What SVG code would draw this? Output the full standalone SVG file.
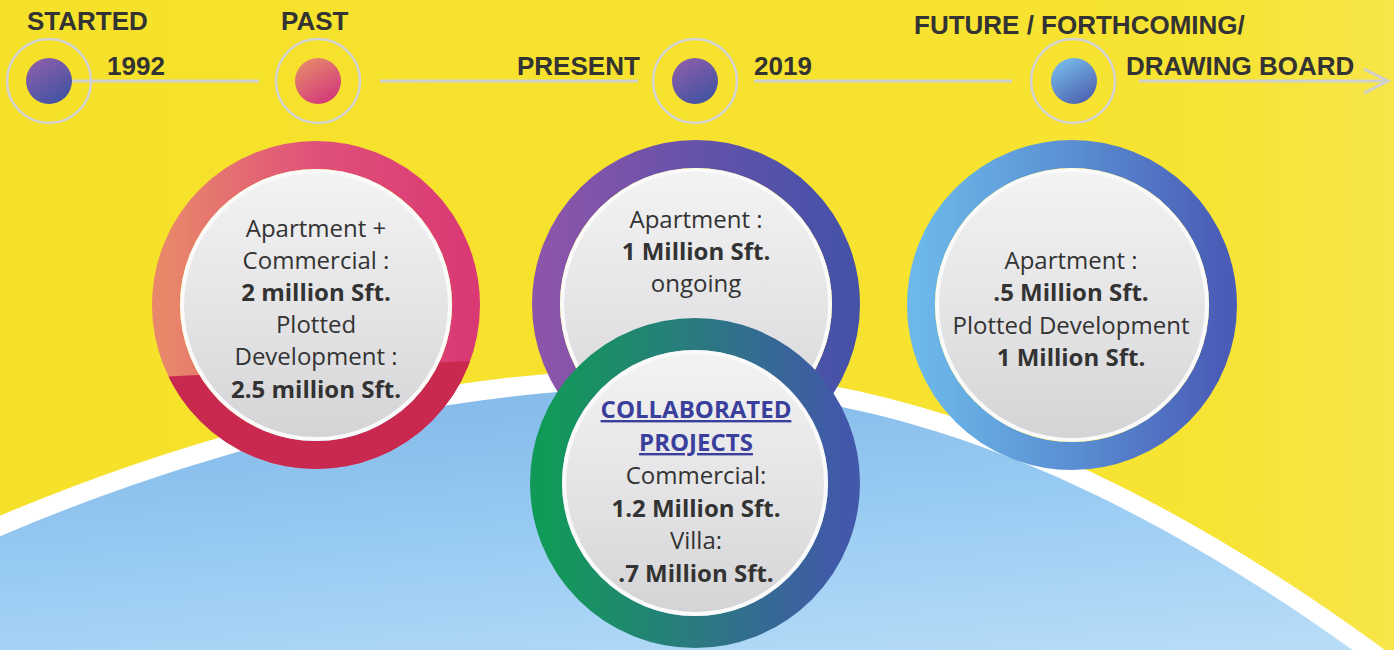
<svg xmlns="http://www.w3.org/2000/svg" width="1394" height="650" viewBox="0 0 1394 650">
<defs>
<style>
.lbl{font-family:"Liberation Sans",Arial,sans-serif;font-weight:700;font-size:26px;fill:#333333}
.tx{font-family:"Open Sans","Noto Sans",sans-serif;font-size:24px;fill:#333333;text-anchor:middle}
.b{font-weight:700}
.ring{fill:none}
.halo{fill:none;stroke:#D2D2D2;stroke-width:2.5}
.tl{stroke:#CFCFCF;stroke-width:3;fill:none}
.rim{fill:#FAFAFA}
.disk{fill:url(#gDisk)}
.ul{fill:#3A3F9C;text-decoration:underline}
</style>
<linearGradient id="gBg" x1="0" y1="0" x2="1" y2="0">
<stop offset="0" stop-color="#F6E12A"/><stop offset="0.85" stop-color="#F7E331"/><stop offset="1" stop-color="#F8E64A"/>
</linearGradient>
<linearGradient id="gSky" x1="0" y1="0" x2="0.35" y2="1">
<stop offset="0" stop-color="#7FB5E7"/><stop offset="0.5" stop-color="#98CBF2"/><stop offset="1" stop-color="#B8DDF8"/>
</linearGradient>
<linearGradient id="gDisk" x1="0" y1="0" x2="0" y2="1">
<stop offset="0" stop-color="#F3F3F4"/><stop offset="0.6" stop-color="#E2E2E4"/><stop offset="1" stop-color="#D4D4D6"/>
</linearGradient>
<linearGradient id="gPurple" x1="0.2" y1="0" x2="0.8" y2="1">
<stop offset="0" stop-color="#8D5FAA"/><stop offset="1" stop-color="#3F52A3"/>
</linearGradient>
<linearGradient id="gPink" x1="0.2" y1="0" x2="0.8" y2="1">
<stop offset="0" stop-color="#E68C6A"/><stop offset="1" stop-color="#D2357C"/>
</linearGradient>
<linearGradient id="gLblue" x1="0.2" y1="0" x2="0.8" y2="1">
<stop offset="0" stop-color="#79BDEC"/><stop offset="1" stop-color="#4B5EAF"/>
</linearGradient>
<linearGradient id="gR1" x1="0" y1="0" x2="1" y2="0">
<stop offset="0" stop-color="#E8876A"/><stop offset="0.5" stop-color="#E0507A"/><stop offset="1" stop-color="#DA3A74"/>
</linearGradient>
<linearGradient id="gR2" x1="0" y1="0" x2="1" y2="0">
<stop offset="0" stop-color="#8C55AA"/><stop offset="0.5" stop-color="#6552AA"/><stop offset="1" stop-color="#4552A8"/>
</linearGradient>
<linearGradient id="gR3" x1="0" y1="0" x2="1" y2="0">
<stop offset="0" stop-color="#119A57"/><stop offset="0.5" stop-color="#2A7A80"/><stop offset="1" stop-color="#4258AA"/>
</linearGradient>
<linearGradient id="gR4" x1="0" y1="0" x2="1" y2="0">
<stop offset="0" stop-color="#6CB8EA"/><stop offset="0.5" stop-color="#5A8FD2"/><stop offset="1" stop-color="#4A5CB6"/>
</linearGradient>
<clipPath id="cBottom1"><polygon points="140,378 490,360 490,490 140,490"/></clipPath>
<marker id="chev" markerUnits="userSpaceOnUse" markerWidth="30" markerHeight="30" viewBox="0 0 30 30" refX="26" refY="15" orient="auto">
<path d="M2,3 L26,15 L2,27" fill="none" stroke="#CFCFCF" stroke-width="3"/>
</marker>
</defs>

<rect width="1394" height="650" fill="url(#gBg)"/>
<path id="sky" d="M-20,545 C150,470 400,390 650,388 C880,386 1120,470 1420,700 L1420,720 L-20,720 Z" fill="url(#gSky)" stroke="#FFFFFF" stroke-width="38" paint-order="stroke"/>

<g id="connectors">
<line class="tl" x1="72" y1="81" x2="259" y2="81"/>
<line class="tl" x1="380" y1="81" x2="638" y2="81"/>
<line class="tl" x1="754" y1="81" x2="1012" y2="81"/>
<line class="tl" x1="1139" y1="81" x2="1388" y2="81" marker-end="url(#chev)"/>
</g>

<g id="tl-started">
<circle class="halo" cx="49" cy="81" r="42"/>
<circle cx="49" cy="81" r="23" fill="url(#gPurple)"/>
<text class="lbl" x="27" y="30">STARTED</text>
<text class="lbl" x="107" y="75">1992</text>
</g>
<g id="tl-past">
<circle class="halo" cx="318" cy="81" r="42"/>
<circle cx="318" cy="81" r="23" fill="url(#gPink)"/>
<text class="lbl" x="281" y="30">PAST</text>
</g>
<g id="tl-present">
<circle class="halo" cx="695" cy="81" r="42"/>
<circle cx="695" cy="81" r="23" fill="url(#gPurple)"/>
<text class="lbl" x="517" y="75">PRESENT</text>
<text class="lbl" x="754" y="75">2019</text>
</g>
<g id="tl-future">
<circle class="halo" cx="1073" cy="81" r="42"/>
<circle cx="1074" cy="81" r="23" fill="url(#gLblue)"/>
<text class="lbl" x="914" y="34">FUTURE / FORTHCOMING/</text>
<text class="lbl" x="1126" y="75">DRAWING BOARD</text>
</g>

<g id="node-past">
<circle class="ring" cx="316" cy="305" r="150" stroke="url(#gR1)" stroke-width="28"/>
<circle class="ring" cx="316" cy="305" r="150" stroke="#C9294F" stroke-width="28" clip-path="url(#cBottom1)"/>
<circle class="rim" cx="316" cy="305" r="136"/>
<circle class="disk" cx="316" cy="305" r="132"/>
<text class="tx" x="316" y="237">Apartment +</text>
<text class="tx" x="316" y="269">Commercial :</text>
<text class="tx b" x="316" y="301">2 million Sft.</text>
<text class="tx" x="316" y="333">Plotted</text>
<text class="tx" x="316" y="365">Development :</text>
<text class="tx b" x="316" y="398">2.5 million Sft.</text>
</g>

<g id="node-present">
<circle class="ring" cx="696" cy="304" r="150" stroke="url(#gR2)" stroke-width="28"/>
<circle class="rim" cx="696" cy="304" r="136"/>
<circle class="disk" cx="696" cy="304" r="132"/>
<text class="tx" x="696" y="228">Apartment :</text>
<text class="tx b" x="696" y="260">1 Million Sft.</text>
<text class="tx" x="696" y="292">ongoing</text>
</g>

<g id="node-future">
<circle class="ring" cx="1072" cy="305" r="151" stroke="url(#gR4)" stroke-width="28"/>
<circle class="rim" cx="1072" cy="305" r="137"/>
<circle class="disk" cx="1072" cy="305" r="133"/>
<text class="tx" x="1071" y="269">Apartment :</text>
<text class="tx b" x="1071" y="301">.5 Million Sft.</text>
<text class="tx" x="1071" y="334">Plotted Development</text>
<text class="tx b" x="1071" y="366">1 Million Sft.</text>
</g>

<g id="node-collab">
<circle class="ring" cx="695" cy="483" r="149" stroke="url(#gR3)" stroke-width="32"/>
<circle class="rim" cx="695" cy="483" r="133"/>
<circle class="disk" cx="695" cy="483" r="129"/>
<text class="tx b ul" x="696" y="418">COLLABORATED</text>
<text class="tx b ul" x="696" y="451">PROJECTS</text>
<text class="tx" x="696" y="484">Commercial:</text>
<text class="tx b" x="696" y="517">1.2 Million Sft.</text>
<text class="tx" x="696" y="549">Villa:</text>
<text class="tx b" x="696" y="582">.7 Million Sft.</text>
</g>
</svg>
